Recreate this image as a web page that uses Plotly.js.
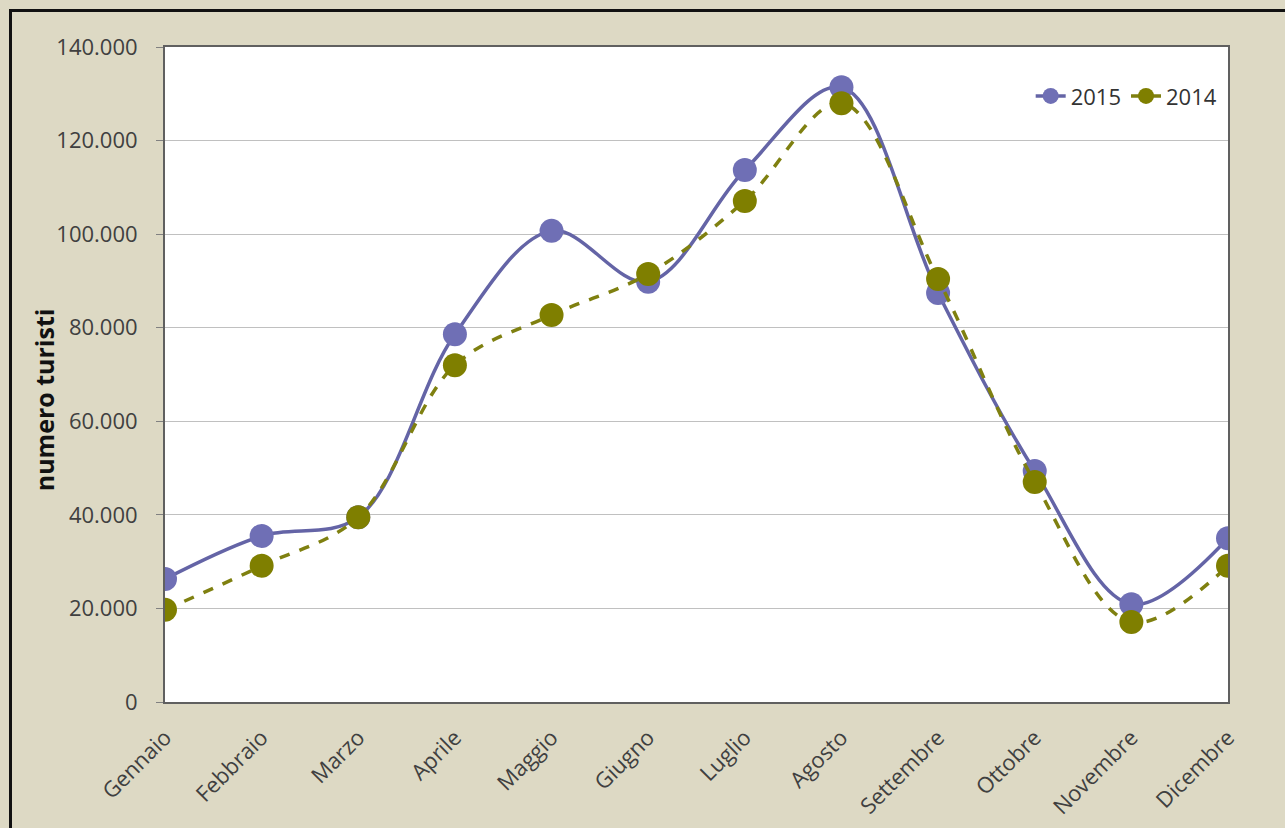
<!DOCTYPE html>
<html>
<head>
<meta charset="utf-8">
<script src="https://cdn.plot.ly/plotly-3.0.1.min.js"></script>
<style>
  html, body { margin: 0; padding: 0; background: #DDD9C4; }
  #wrap { position: relative; width: 1285px; height: 828px; }
  #chart { width: 1285px; height: 828px; }
  #frame { position: absolute; left: 9px; top: 9px; width: 1300px; height: 840px;
           border-left: 3px solid #111; border-top: 3px solid #111; pointer-events: none; box-sizing: border-box; }
</style>
</head>
<body>
<div id="wrap">
  <div id="chart"></div>
  <div id="frame"></div>
</div>
<script>
const months = ["Gennaio","Febbraio","Marzo","Aprile","Maggio","Giugno","Luglio","Agosto","Settembre","Ottobre","Novembre","Dicembre"];
const values2015 = [26300, 35500, 39500, 78600, 100700, 89800, 113700, 131400, 87400, 49400, 20900, 35000];
const values2014 = [19700, 29100, 39500, 72000, 82700, 91500, 107100, 128000, 90400, 47000, 17100, 29100];
const yTicks = [0, 20000, 40000, 60000, 80000, 100000, 120000, 140000];
const yTitle = "numero turisti";

const font = "Open Sans, Liberation Sans, sans-serif";

const traces = [
  {
    x: months, y: values2015, name: "2015", type: "scatter", mode: "lines+markers",
    line: { color: "#6464A6", width: 3.5, shape: "spline", smoothing: 1 },
    marker: { color: "#6F6FB5", size: 24, line: { width: 0 } }
  },
  {
    x: months, y: values2014, name: "2014", type: "scatter", mode: "lines+markers",
    line: { color: "#7F8010", width: 3.5, shape: "spline", smoothing: 1, dash: "dash" },
    marker: { color: "#7F7F00", size: 24, line: { width: 0 } }
  }
];

const layout = {
  width: 1285, height: 828,
  paper_bgcolor: "#DDD9C4",
  plot_bgcolor: "#FFFFFF",
  separators: ",.",
  margin: { l: 165, r: 57, t: 47, b: 126 },
  font: { family: font, color: "#404040", size: 19 },
  showlegend: true,
  legend: {
    orientation: "h", x: 0.995, xanchor: "right", y: 0.925, yanchor: "middle",
    bgcolor: "rgba(0,0,0,0)", font: { size: 22, color: "#333333" },
    traceorder: "normal"
  },
  annotations: [{
    text: yTitle, xref: "paper", yref: "paper", x: -0.113, y: 0.462,
    xanchor: "center", yanchor: "middle", textangle: -90, showarrow: false,
    font: { size: 25, color: "#111111", family: font, weight: "bold" }
  }],
  xaxis: {
    type: "category",
    range: [0, 11],
    tickangle: -45,
    showgrid: false,
    zeroline: false,
    showline: true, linecolor: "#606060", linewidth: 2,
    mirror: true,
    ticks: "",
    ticklabelstandoff: 12,
    tickfont: { size: 22, color: "#404040" }
  },
  yaxis: {
    range: [0, 140000],
    tickvals: yTicks,
    tickformat: ",d",
    showgrid: true, gridcolor: "#C0C0C0", gridwidth: 1,
    zeroline: false,
    showline: true, linecolor: "#606060", linewidth: 2,
    mirror: true,
    ticks: "outside", ticklen: 7, tickcolor: "#808080",
    ticklabelstandoff: 14,
    tickfont: { size: 22, color: "#404040" }
  }
};

Plotly.newPlot("chart", traces, layout, { displayModeBar: false, staticPlot: true });
</script>
</body>
</html>
